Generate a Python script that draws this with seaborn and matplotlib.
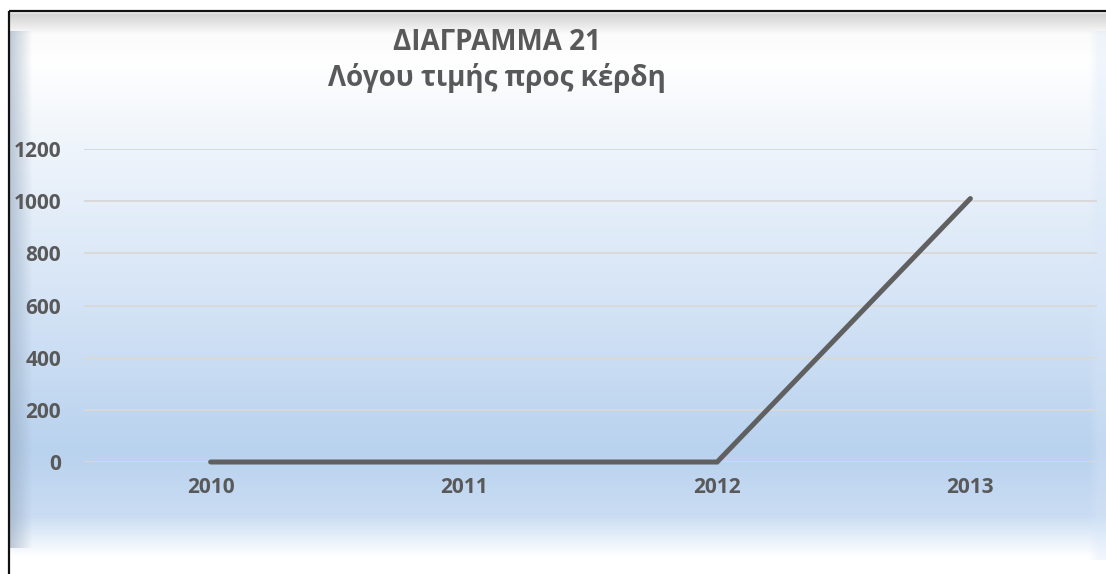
import numpy as np
import pandas as pd
import matplotlib
matplotlib.use("Agg")
import matplotlib.pyplot as plt
import seaborn as sns

# Price-to-earnings ratio by year
years = ["2010", "2011", "2012", "2013"]
pe_ratio = [0, 0, 0, 1010]
y_ticks = [0, 200, 400, 600, 800, 1000, 1200]
title_lines = ["ΔΙΑΓΡΑΜΜΑ 21", "Λόγου τιμής προς κέρδη"]

sns.set_theme(style="white")
plt.rcParams["font.family"] = ["Open Sans", "DejaVu Sans"]

W, H = 1106, 574
fig = plt.figure(figsize=(W / 100, H / 100), dpi=100)

# ---- gradient backdrop with bevelled frame ----
def lerp(c0, c1, t):
    c0 = np.array(c0, float); c1 = np.array(c1, float)
    return c0 + (c1 - c0) * t

def hexrgb(h):
    h = h.lstrip("#")
    return [int(h[i:i + 2], 16) / 255 for i in (0, 2, 4)]

stops = [
    (0, "#ffffff"), (11, "#ffffff"), (14, "#d4d4d4"), (34, "#fbfbfb"),
    (60, "#ffffff"), (150, "#eef4fb"), (300, "#d5e4f6"), (450, "#b9d2ee"),
    (515, "#cadcf3"), (540, "#eaf2fb"), (556, "#ffffff"), (574, "#ffffff"),
]
col = np.zeros((H, 3))
for (y0, c0), (y1, c1) in zip(stops[:-1], stops[1:]):
    for y in range(y0, y1):
        col[y] = lerp(hexrgb(c0), hexrgb(c1), (y - y0) / max(y1 - y0, 1))
img = np.repeat(col[:, None, :], W, axis=1)

# left bevel shading
xs = np.arange(W)
left = np.clip((32 - xs) / 22.0, 0, 1)[None, :, None]
shade_left = np.array(hexrgb("#8fa3b8"))
rows = np.arange(H)
row_mask = ((rows > 30) & (rows < 548)).astype(float)[:, None, None]
img = img * (1 - 0.55 * left * row_mask) + shade_left * 0.55 * left * row_mask

# right edge highlight
right = np.clip((xs - 1088) / 10.0, 0, 1)[None, :, None]
row_mask_r = ((rows > 30) & (rows < 560)).astype(float)[:, None, None]
img = img * (1 - 0.35 * right * row_mask_r) + np.array(hexrgb("#d8e6f8")) * 0.35 * right * row_mask_r
img[:, :9] = 1.0
img[:11, :] = 1.0

bg = fig.add_axes([0, 0, 1, 1], zorder=0)
bg.imshow(img, aspect="auto", extent=[0, W, H, 0], interpolation="bilinear")
bg.set_xlim(0, W); bg.set_ylim(H, 0)
bg.axis("off")
# dark frame on top and left
bg.plot([9, W], [11, 11], color="#111111", lw=1.6, solid_capstyle="butt")
bg.plot([9, 9], [11, H], color="#111111", lw=1.6, solid_capstyle="butt")

# ---- chart ----
ax = fig.add_axes([84 / W, 1 - 462 / H, (1097 - 84) / W, (462 - 149) / H], zorder=1)
ax.patch.set_alpha(0)
df = pd.DataFrame({"year": years, "pe": pe_ratio})
sns.lineplot(data=df, x="year", y="pe", ax=ax, color="#606060", linewidth=3.6,
             sort=False, solid_capstyle="round", solid_joinstyle="miter", zorder=3)
for ln in ax.lines:
    ln.set_clip_on(False)

ax.set_xlim(-0.5, len(years) - 0.5)
ax.set_ylim(0, 1200)
ax.set_yticks(y_ticks)
ax.grid(axis="y", color="#d9d9d9", linewidth=1.4)
ax.grid(axis="x", visible=False)
ax.set_axisbelow(True)
for s in ax.spines.values():
    s.set_visible(False)
ax.set_xlabel("")
ax.set_ylabel("")
ax.tick_params(axis="both", length=0, labelsize=15, labelcolor="#595959")
ax.tick_params(axis="y", pad=16.5)
ax.tick_params(axis="x", pad=11)
for lab in ax.get_xticklabels() + ax.get_yticklabels():
    lab.set_fontweight("bold")

fig.text(497 / W, 1 - 42 / H, title_lines[0], ha="center", va="center",
         fontsize=20, fontweight="bold", color="#595959")
fig.text(497 / W, 1 - 78 / H, title_lines[1], ha="center", va="center",
         fontsize=20, fontweight="bold", color="#595959")

fig.savefig("out.png", dpi=100)
